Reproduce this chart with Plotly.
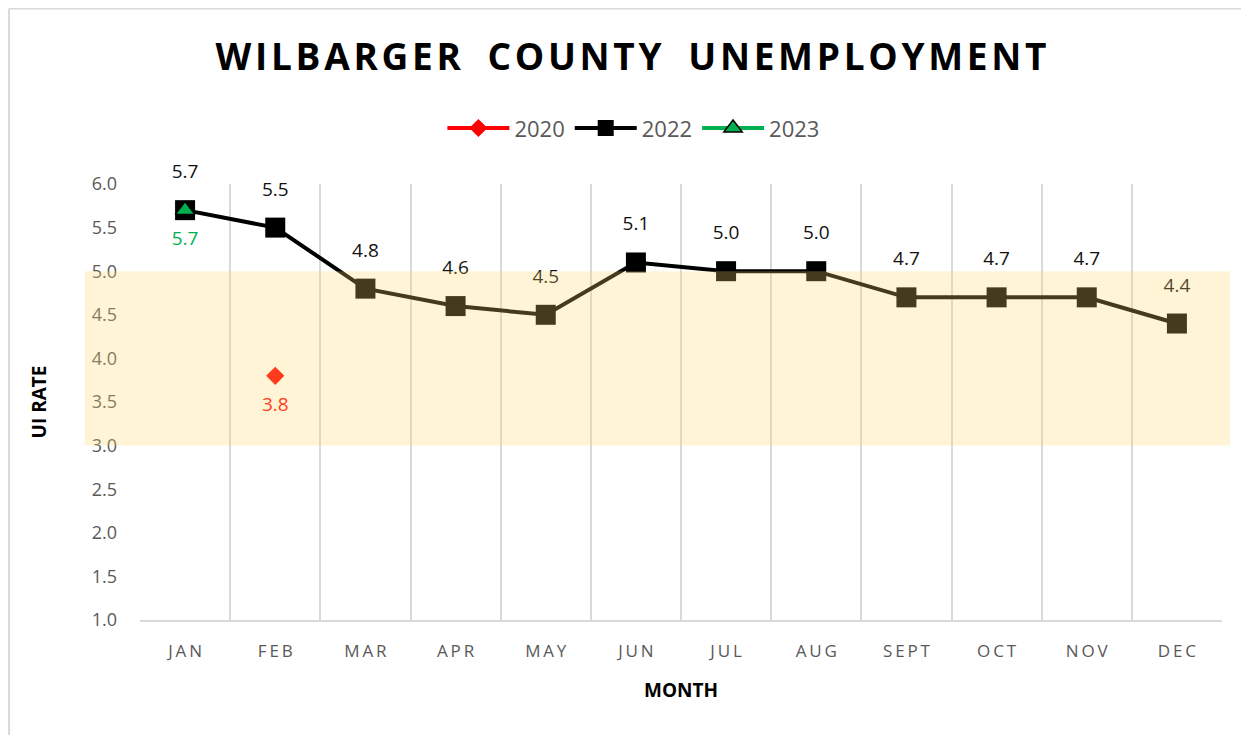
import plotly.graph_objects as go

months = ["JAN", "FEB", "MAR", "APR", "MAY", "JUN", "JUL", "AUG", "SEPT", "OCT", "NOV", "DEC"]
rate_2020 = [None, 3.8, None, None, None, None, None, None, None, None, None, None]
rate_2022 = [5.7, 5.5, 4.8, 4.6, 4.5, 5.1, 5.0, 5.0, 4.7, 4.7, 4.7, 4.4]
rate_2023 = [5.7, None, None, None, None, None, None, None, None, None, None, None]
y_ticks = [1.0, 1.5, 2.0, 2.5, 3.0, 3.5, 4.0, 4.5, 5.0, 5.5, 6.0]
band_low, band_high = 3.0, 5.0
title_text = "WILBARGER COUNTY UNEMPLOYMENT"

x = list(range(len(months)))
spaced = ["\u2009".join(list(m)) for m in months]
title_spaced = "\u200a".join(list(title_text)).replace(" ", "  ")

def fmt(vals):
    return [None if v is None else f"{v:.1f}" for v in vals]

FONT = "Open Sans, Noto Sans, sans-serif"
RED = "#FF0000"
GREEN = "#00B050"

fig = go.Figure()

fig.add_trace(go.Scatter(
    x=x, y=rate_2020, name="2020", mode="lines+markers",
    line=dict(color=RED, width=4),
    marker=dict(symbol="diamond", size=14, color=RED),
    cliponaxis=False,
))
fig.add_trace(go.Scatter(
    x=x, y=rate_2022, name="2022", mode="lines+markers",
    line=dict(color="black", width=4),
    marker=dict(symbol="square", size=20, color="black"),
    cliponaxis=False,
))
fig.add_trace(go.Scatter(
    x=x, y=rate_2023, name="2023", mode="lines+markers",
    line=dict(color=GREEN, width=4),
    marker=dict(symbol="triangle-up", size=17, color=GREEN,
                line=dict(color="black", width=1.5)),
    cliponaxis=False,
))

# data labels (transparent spacer markers push the text away from the points)
fig.add_trace(go.Scatter(
    x=x, y=rate_2022, text=fmt(rate_2022), mode="markers+text",
    textposition="top center", textfont=dict(size=19, color="#111111", family=FONT),
    marker=dict(size=42, color="rgba(0,0,0,0)"), showlegend=False,
    hoverinfo="skip", cliponaxis=False,
))
fig.add_trace(go.Scatter(
    x=x, y=rate_2020, text=fmt(rate_2020), mode="markers+text",
    textposition="bottom center", textfont=dict(size=19, color=RED, family=FONT),
    marker=dict(size=32, color="rgba(0,0,0,0)"), showlegend=False,
    hoverinfo="skip", cliponaxis=False,
))
fig.add_trace(go.Scatter(
    x=x, y=rate_2023, text=fmt(rate_2023), mode="markers+text",
    textposition="bottom center", textfont=dict(size=19, color=GREEN, family=FONT),
    marker=dict(size=32, color="rgba(0,0,0,0)"), showlegend=False,
    hoverinfo="skip", cliponaxis=False,
))

# shaded band, drawn above the data (semi-transparent)
fig.add_shape(type="rect", xref="paper", yref="y",
              x0=-0.051, x1=1.0074, y0=band_low, y1=band_high,
              fillcolor="rgba(255,217,102,0.27)", line=dict(width=0), layer="above")
# chart frame (left/top border)
fig.add_shape(type="line", xref="paper", yref="paper", x0=-0.1210, x1=-0.1210, y0=-0.3, y1=1.4025,
              line=dict(color="#D9D9D9", width=2), layer="below")
fig.add_shape(type="line", xref="paper", yref="paper", x0=-0.1210, x1=1.03, y0=1.4025, y1=1.4025,
              line=dict(color="#D9D9D9", width=2), layer="below")

fig.update_layout(
    width=1241, height=727,
    paper_bgcolor="white", plot_bgcolor="white",
    margin=dict(l=132, r=27, t=176, b=115),
    font=dict(family=FONT, color="#595959"),
    title=dict(text=title_spaced, x=0.502, xanchor="center",
               y=0.933, yanchor="middle",
               font=dict(size=37, color="black", family=FONT, weight="bold")),
    legend=dict(orientation="h", x=0.456, xanchor="center", y=1.128, yanchor="middle",
                font=dict(size=22, color="#595959", family=FONT),
                itemwidth=62, tracegroupgap=0),
    showlegend=True,
)

fig.update_xaxes(
    range=[-0.5, len(months) - 0.5],
    tickmode="array", tickvals=x, ticktext=spaced,
    tickfont=dict(size=17, color="#595959", family=FONT),
    showgrid=False, zeroline=False,
    showline=True, linecolor="#D9D9D9", linewidth=2,
    ticks="", ticklabelstandoff=15,
    minor=dict(tickmode="array", tickvals=[i - 0.5 for i in range(len(months) + 1)],
               showgrid=True, gridcolor="#D9D9D9", gridwidth=2, ticks=""),
    title=dict(text="MONTH", standoff=22,
               font=dict(size=19, color="black", family=FONT, weight="bold")),
)
fig.update_yaxes(
    range=[1.0, 6.0],
    tickmode="array", tickvals=y_ticks, ticktext=[f"{v:.1f}" for v in y_ticks],
    tickfont=dict(size=18, color="#595959", family=FONT),
    showgrid=False, zeroline=False, showline=False,
    ticks="", ticklabelstandoff=22,
    title=dict(text="UI RATE", standoff=40,
               font=dict(size=19, color="black", family=FONT, weight="bold")),
)

fig.write_html("out.html")
